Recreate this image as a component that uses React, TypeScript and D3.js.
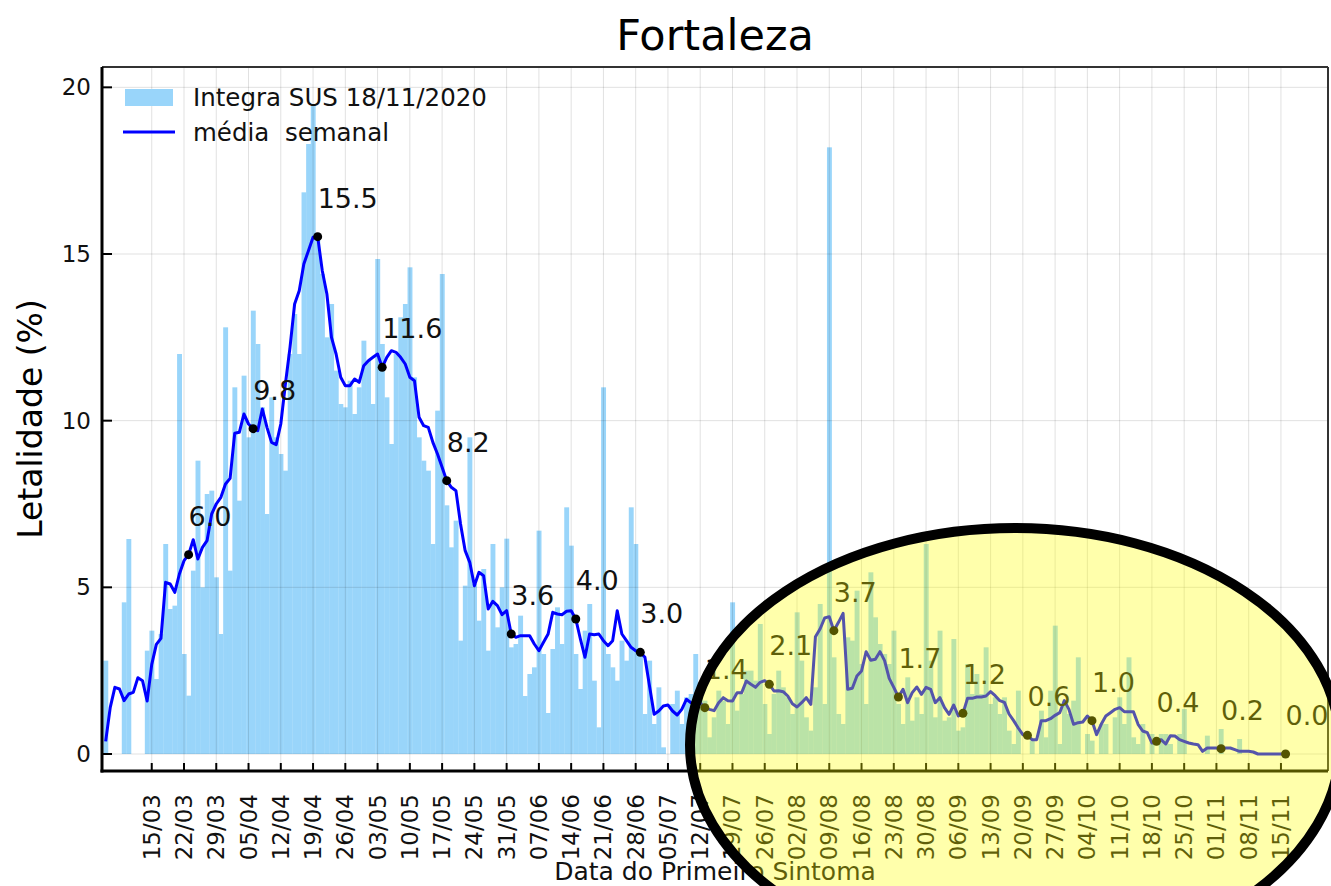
import React from "react";
import * as d3 from "d3";

// daily lethality (%), one value per day starting at firstDay
const firstDay = "05/03/2020";
const barValues = [
  2.8, 0, 0, 0, 4.55, 6.45, 0, 0, 0, 3.1,
  3.7, 2.25, 3.6, 6.3, 4.35, 4.45, 12.0, 3.0, 1.75, 5.5,
  8.8, 5.0, 7.8, 7.9, 5.3, 3.6, 12.8, 5.5, 11.0, 7.6,
  11.35, 9.5, 13.3, 12.3, 10.4, 7.2, 10.7, 9.5, 9.0, 8.5,
  12.0, 13.2, 12.0, 16.85, 18.3, 19.5, 15.45, 14.4, 12.5, 13.5,
  11.5, 10.5, 10.4, 11.2, 10.2, 11.0, 12.4, 11.8, 10.5, 14.85,
  12.3, 10.7, 9.3, 12.0, 13.1, 13.5, 14.6, 11.3, 9.5, 8.8,
  8.5, 6.3, 10.3, 14.4, 7.46, 6.2, 7.0, 3.4, 5.05, 9.5,
  5.1, 4.0, 5.55, 3.1, 6.3, 3.8, 5.0, 6.46, 3.2, 3.3,
  4.15, 1.74, 2.4, 2.6, 6.7, 3.0, 1.23, 3.15, 4.4, 3.3,
  7.4, 6.25, 3.0, 1.95, 3.7, 4.5, 2.2, 0.8, 11.0, 3.0,
  2.6, 2.2, 3.4, 2.8, 7.4, 6.3, 3.0, 1.2, 2.8, 0.9,
  2.0, 0.2, 0, 1.5, 1.9, 0.9, 1.7, 1.8, 3.0, 2.0,
  1.6, 0.5, 1.1, 1.9, 1.6, 0.9, 4.55, 1.3, 1.8, 2.5,
  2.5, 2.2, 3.9, 1.5, 0.6, 1.8, 2.5, 2.0, 1.7, 1.2,
  4.25, 2.8, 1.1, 0.7, 2.0, 4.5, 1.5, 18.2, 2.9, 1.2,
  0.9, 3.5, 3.4, 4.9, 2.7, 1.5, 5.45, 4.1, 3.3, 3.0,
  2.7, 3.7, 1.5, 0.9, 2.3, 1.0, 1.7, 1.2, 6.3, 2.8,
  1.1, 3.7, 1.0, 1.1, 3.45, 0.7, 0.8, 2.7, 1.8, 2.4,
  1.8, 3.2, 1.5, 1.7, 1.2, 1.7, 0.7, 0.3, 1.9, 0,
  0, 0.4, 0, 1.3, 0.5, 1.9, 3.85, 0.3, 1.6, 1.2,
  1.6, 2.9, 0, 0.6, 0.4, 0, 0.9, 0.9, 0, 1.1,
  1.7, 0.9, 2.9, 0.5, 0.3, 0.9, 0, 0.6, 0, 0.6,
  0.6, 0.3, 0, 0.6, 1.35, 0, 0, 0, 0, 0.55,
  0, 0, 0.75, 0, 0, 0, 0.45, 0, 0, 0,
  0, 0, 0, 0, 0, 0, 0,
];

// weekly mean, same days as barValues
const weeklyMean = [
  0.38, 1.4, 2.0, 1.95, 1.6, 1.8, 1.85, 2.29, 2.2, 1.59,
  2.69, 3.29, 3.47, 5.15, 5.1, 4.85, 5.4, 5.8, 5.98, 6.43,
  5.85, 6.2, 6.4, 7.2, 7.5, 7.7, 8.1, 8.27, 9.62, 9.65,
  10.2, 9.9, 9.76, 9.7, 10.35, 9.8, 9.35, 9.28, 9.9, 11.1,
  12.2, 13.5, 13.9, 14.7, 15.1, 15.5, 15.52, 14.5, 13.8, 12.5,
  12.0, 11.3, 11.05, 11.05, 11.25, 11.15, 11.65, 11.8, 11.9, 12.0,
  11.6, 11.9, 12.1, 12.05, 11.9, 11.7, 11.3, 11.2, 10.1, 9.85,
  9.8, 9.35, 9.0, 8.6, 8.2, 8.0, 7.9, 6.9, 6.1, 5.75,
  5.05, 5.45, 5.35, 4.35, 4.58, 4.45, 4.18, 4.3, 3.6, 3.5,
  3.55, 3.55, 3.55, 3.3, 3.1, 3.35, 3.6, 4.25, 4.2, 4.18,
  4.28, 4.3, 4.05, 3.45, 2.9, 3.6, 3.58, 3.6, 3.4, 3.25,
  3.4, 4.3, 3.6, 3.4, 3.2, 3.1, 3.05, 2.9, 2.04, 1.19,
  1.29, 1.44, 1.47, 1.29, 1.17, 1.34, 1.64, 1.54, 1.49, 1.54,
  1.39, 1.34, 1.3, 1.54, 1.69, 1.6, 1.59, 1.84, 1.84, 2.19,
  2.09, 2.0, 2.15, 2.2, 2.09, 1.89, 1.9, 1.87, 1.74, 1.51,
  1.41, 1.54, 1.69, 1.49, 3.52, 3.75, 4.08, 4.12, 3.7, 3.95,
  4.22, 1.94, 1.97, 2.34, 2.49, 3.07, 2.81, 2.84, 3.07, 2.8,
  2.27, 2.0, 1.71, 1.94, 1.54, 1.84, 2.01, 1.79, 2.0, 1.94,
  1.54, 1.69, 1.39, 1.19, 1.47, 1.14, 1.22, 1.67, 1.67, 1.71,
  1.71, 1.74, 1.87, 1.75, 1.6, 1.55, 1.2, 1.0, 0.78, 0.58,
  0.56, 0.43, 0.43, 1.0, 1.0, 1.06, 1.16, 1.24, 1.6, 1.34,
  0.89, 0.94, 0.96, 1.14, 1.0, 0.58, 0.89, 1.14, 1.24, 1.34,
  1.39, 1.27, 1.27, 1.27, 0.89, 0.69, 0.64, 0.33, 0.38, 0.43,
  0.3, 0.55, 0.54, 0.43, 0.38, 0.33, 0.3, 0.28, 0.08, 0.18,
  0.18, 0.18, 0.16, 0.18, 0.18, 0.13, 0.08, 0.08, 0.08, 0.06,
  0, 0, 0, 0, 0, 0, 0,
];

const markDates = [
  "23/03", "06/04", "20/04", "04/05", "18/05", "01/06", "15/06", "29/06", "13/07",
  "27/07", "10/08", "24/08", "07/09", "21/09", "05/10", "19/10", "02/11", "16/11",
];
const markLabels = [
  "6.0", "9.8", "15.5", "11.6", "8.2", "3.6", "4.0", "3.0", "1.4",
  "2.1", "3.7", "1.7", "1.2", "0.6", "1.0", "0.4", "0.2", "0.0",
];

const tickLabels = [
  "15/03", "22/03", "29/03", "05/04", "12/04", "19/04", "26/04", "03/05", "10/05",
  "17/05", "24/05", "31/05", "07/06", "14/06", "21/06", "28/06", "05/07", "12/07",
  "19/07", "26/07", "02/08", "09/08", "16/08", "23/08", "30/08", "06/09", "13/09",
  "20/09", "27/09", "04/10", "11/10", "18/10", "25/10", "01/11", "08/11", "15/11",
];
const yTicks = [0, 5, 10, 15, 20];

const W = 1331;
const H = 886;
const m = { left: 102, right: 1328, top: 67, bottom: 771 };
const barColor = "#99d5fa";
const font = "DejaVu Sans";

const parse = d3.utcParse("%d/%m/%Y");
const start = parse(firstDay) as Date;
const dayAt = (i: number) => d3.utcDay.offset(start, i);
const onDate = (s: string) => parse(s + "/2020") as Date;

const x = d3
  .scaleUtc()
  .domain([d3.utcHour.offset(start, -19), d3.utcHour.offset(dayAt(barValues.length - 1), 221)])
  .range([m.left, m.right]);
const y = d3.scaleLinear().domain([-0.51, 20.61]).range([m.bottom, m.top]);

export default function App() {
  const bw = x(dayAt(1)) - x(dayAt(0));
  const line = d3
    .line<number>()
    .x((_, i) => x(dayAt(i)))
    .y((v) => y(v));

  const meanAt = (s: string) => weeklyMean[d3.utcDay.count(start, onDate(s))];

  return (
    <svg
      width={W}
      height={H}
      style={{ position: "absolute", left: 0, top: 0, background: "#fff" }}
      fontFamily={font}
    >
      <rect x={0} y={0} width={W} height={H} fill="#fff" />

      {/* daily bars */}
      <g>
        {barValues.map((v, i) =>
          v > 0 ? (
            <rect
              key={i}
              x={x(dayAt(i)) - bw / 2}
              y={y(v)}
              width={bw + 0.3}
              height={y(0) - y(v)}
              fill={barColor}
            />
          ) : null
        )}
      </g>

      {/* grid */}
      <g stroke="#000" strokeOpacity={0.12} strokeWidth={1}>
        {tickLabels.map((t) => (
          <line key={t} x1={x(onDate(t))} x2={x(onDate(t))} y1={m.top} y2={m.bottom} />
        ))}
        {yTicks.map((t) => (
          <line key={t} x1={m.left} x2={m.right} y1={y(t)} y2={y(t)} />
        ))}
      </g>

      {/* weekly mean */}
      <path d={line(weeklyMean) || ""} fill="none" stroke="#0000ff" strokeWidth={3} strokeLinejoin="round" />

      {/* biweekly marks */}
      {markDates.map((s, k) => {
        const cx = x(onDate(s));
        const cy = y(meanAt(s));
        return (
          <g key={s}>
            <circle cx={cx} cy={cy} r={4.5} fill="#000" />
            <text x={cx} y={cy - 29} fontSize={27} fill="#111">
              {markLabels[k]}
            </text>
          </g>
        );
      })}

      {/* spines */}
      <line x1={m.left} x2={m.right} y1={m.top} y2={m.top} stroke="#333" strokeWidth={2} />
      <line x1={m.right} x2={m.right} y1={m.top} y2={m.bottom} stroke="#333" strokeWidth={2} />
      <line x1={m.left} x2={m.left} y1={m.top} y2={m.bottom + 1.5} stroke="#000" strokeWidth={3} />
      <line x1={m.left - 1.5} x2={m.right} y1={m.bottom} y2={m.bottom} stroke="#000" strokeWidth={3} />

      {/* y axis */}
      {yTicks.map((t) => (
        <g key={t}>
          <line x1={m.left} x2={m.left + 10} y1={y(t)} y2={y(t)} stroke="#000" strokeWidth={2} />
          <text x={91} y={y(t)} textAnchor="end" dominantBaseline="central" fontSize={23} fill="#111">
            {t}
          </text>
        </g>
      ))}

      {/* x axis */}
      {tickLabels.map((t) => {
        const tx = x(onDate(t));
        return (
          <g key={t}>
            <line x1={tx} x2={tx} y1={m.bottom} y2={m.bottom - 8} stroke="#000" strokeWidth={2} />
            <text
              transform={`translate(${tx},${m.bottom + 23}) rotate(-90)`}
              textAnchor="end"
              dominantBaseline="central"
              fontSize={23}
              fill="#111"
            >
              {t}
            </text>
          </g>
        );
      })}

      {/* legend */}
      <rect x={125} y={89} width={48} height={17} fill={barColor} />
      <text x={193} y={106} fontSize={24.5} fill="#111">
        Integra SUS 18/11/2020
      </text>
      <line x1={123} x2={175} y1={132} y2={132} stroke="#0000ff" strokeWidth={3} />
      <text x={193} y={141} fontSize={24.5} fill="#111" style={{ whiteSpace: "pre" }}>
        {"média  semanal"}
      </text>

      {/* titles */}
      <text x={(m.left + m.right) / 2} y={50} textAnchor="middle" fontSize={43} fill="#000">
        Fortaleza
      </text>
      <text
        transform={`translate(42,${(m.top + m.bottom) / 2}) rotate(-90)`}
        textAnchor="middle"
        fontSize={33}
        fill="#000"
      >
        Letalidade (%)
      </text>
      <text x={(m.left + m.right) / 2} y={880} textAnchor="middle" fontSize={25} fill="#111">
        Data do Primeiro Sintoma
      </text>

      {/* highlight */}
      <ellipse cx={1015} cy={745} rx={325} ry={217} fill="#ffff00" fillOpacity={0.33} stroke="none" />
      <ellipse cx={1015} cy={745} rx={325} ry={217} fill="none" stroke="#000" strokeWidth={10} />
    </svg>
  );
}
